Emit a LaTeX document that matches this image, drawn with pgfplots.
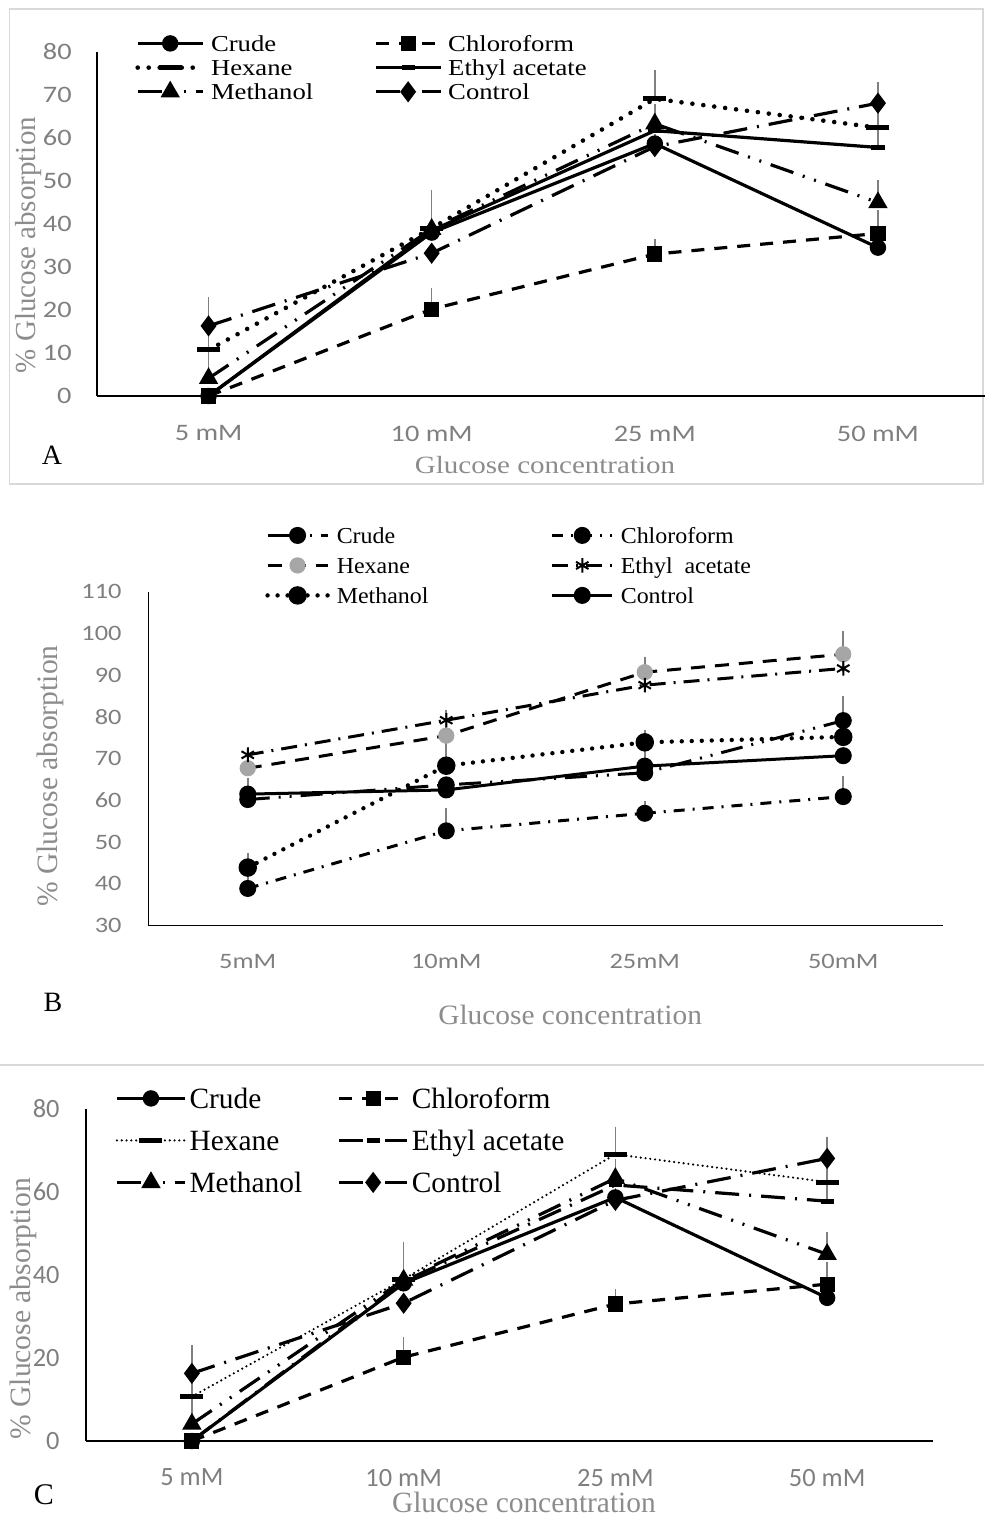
\documentclass[border=0pt]{standalone}
\usepackage{pgfplots}
\pgfplotsset{compat=1.18}
\usepackage{fontspec}
\setmainfont{Liberation Serif}
\newfontfamily\calS[FakeStretch=1.2]{Carlito}
\newfontfamily\calN{Carlito}
\newfontfamily\serA[FakeStretch=1.17]{Liberation Serif}
\newfontfamily\serB[FakeStretch=1.05]{Liberation Serif}

\definecolor{tickgray}{HTML}{7F7F7F}
\definecolor{titlegray}{HTML}{8C8C8C}
\definecolor{errgray}{HTML}{808080}
\definecolor{framegray}{HTML}{D9D9D9}
\definecolor{hexgray}{HTML}{A6A6A6}

\pgfplotsset{
  panel/.style={
    scale only axis, anchor=south west,
    xmin=-0.5, xmax=3.5, xtick={0,1,2,3},
    axis lines=left, axis line style={-, black, line width=0.8pt},
    major tick length=0pt, enlargelimits=false, clip=false,
    /pgf/number format/assume math mode=true,
    yticklabel style={anchor=east, inner sep=0pt, text=tickgray},
    xticklabel style={anchor=north, inner sep=0pt, text=tickgray},
    xlabel style={anchor=center, inner sep=0pt, text=titlegray},
    ylabel style={anchor=center, inner sep=0pt, text=titlegray},
    legend columns=2, legend cell align=left,
    legend style={draw=none, fill=none, inner sep=0pt, row sep=0pt, anchor=north west},
    error bars/y dir=plus, error bars/y explicit,
    error bars/error bar style={errgray, line width=0.8pt, solid},
    error bars/error mark options={errgray, line width=0.8pt, solid, mark size=2.8pt},
  },
}

\begin{document}
\begin{tikzpicture}
\useasboundingbox (0pt,0pt) rectangle (492pt,-759pt);
\draw[framegray, line width=0.7pt] (4.6pt,-4.6pt) rectangle (491.5pt,-242pt);
\draw[framegray, line width=0.7pt] (0pt,-532.5pt) -- (492pt,-532.5pt);

% ---------------- A ----------------
\begin{axis}[panel,
    at={(48.5pt,-198pt)}, width=446.25pt, height=172pt,
    ymin=0, ymax=80, ytick={0,10,...,80},
    xticklabels={5 mM,10 mM,25 mM,50 mM},
    yticklabel style={font=\calS\fontsize{11.8}{13}\selectfont, xshift=-12.5pt},
    xticklabel style={font=\calS\fontsize{11.8}{13}\selectfont, yshift=-14.7pt},
    xlabel={Glucose concentration},
    xlabel style={at={(axis description cs:0.502,-0.2006)}, font=\serA\fontsize{12.4}{14}\selectfont},
    ylabel={\% Glucose absorption},
    ylabel style={at={(axis description cs:-0.0765,0.439)}, font=\fontsize{14.5}{16}\selectfont},
    legend image code/.code={\draw[mark repeat=2,mark phase=2] plot coordinates {(0pt,0pt) (16.25pt,0pt) (32.5pt,0pt)};},
    legend style={at={(axis description cs:0.0426,1.0613)},
      font=\serA\fontsize{11.4}{12}\selectfont,
      nodes={inner sep=0pt, text height=9.85pt, text depth=2.25pt},
      /tikz/every odd column/.append style={column sep=3pt},
      /tikz/column 2/.append style={text width=81.5pt}},
  ]
\addplot[black, line width=1.6pt, mark=*, mark size=3.3pt, mark options={solid}]
  coordinates {(0,0) +- (0,0.5) (1,38.0) +- (0,3.2) (2,58.7) +- (0,1) (3,34.5) +- (0,1)};
\addlegendentry{Crude}
\addplot[black, line width=1.6pt, dash pattern=on 6.5pt off 5pt, mark=square*, mark size=3pt, mark options={solid}]
  coordinates {(0,0) +- (0,0.5) (1,20.2) +- (0,3.5) (2,33.0) +- (0,2.3) (3,37.8) +- (0,4.1)};
\addlegendentry{Chloroform}
\addplot[black, line width=2.3pt, line cap=round, dash pattern=on 0pt off 5.5pt, mark=-, mark size=5.75pt, mark options={solid, line width=2.5pt, line cap=butt}]
  coordinates {(0,10.7) +- (0,2.3) (1,39.0) +- (0,7.7) (2,69.1) +- (0,5.3) (3,62.4) +- (0,3.2)};
\addlegendentry{Hexane}
\addplot[black, line width=1.6pt, mark=-, mark size=3.3pt, mark options={solid, line width=2.5pt}]
  coordinates {(0,0) +- (0,0.5) (1,38.5) +- (0,4.8) (2,61.7) +- (0,1) (3,57.8) +- (0,7.8)};
\addlegendentry{Ethyl acetate}
\addplot[black, line width=1.6pt, dash pattern=on 12pt off 5pt on 1pt off 5pt on 1pt off 5pt, mark=triangle*, mark size=4pt, mark options={solid}]
  coordinates {(0,4.1) +- (0,4.9) (1,38.8) +- (0,0.5) (2,63.3) +- (0,3.2) (3,45.0) +- (0,3.9)};
\addlegendentry{Methanol}
\addplot[black, line width=1.6pt, dash pattern=on 12pt off 5pt on 1pt off 5pt, mark=diamond*, mark size=4pt, mark options={solid}]
  coordinates {(0,16.3) +- (0,5.4) (1,33.2) +- (0,0.5) (2,58.0) +- (0,0.5) (3,68.1) +- (0,3.7)};
\addlegendentry{Control}
\end{axis}
\node[font=\fontsize{14}{16}\selectfont] at (26pt,-227.5pt) {A};

% ---------------- B ----------------
\begin{axis}[panel,
    at={(74.25pt,-462.8pt)}, width=397pt, height=167pt,
    ymin=30, ymax=110, ytick={30,40,...,110},
    xticklabels={5mM,10mM,25mM,50mM},
    yticklabel style={font=\calS\fontsize{11}{13}\selectfont, xshift=-13.25pt},
    xticklabel style={font=\calS\fontsize{11}{13}\selectfont, yshift=-14.2pt},
    xlabel={Glucose concentration},
    xlabel style={at={(axis description cs:0.531,-0.268)}, font=\serB\fontsize{14}{16}\selectfont},
    ylabel={\% Glucose absorption},
    ylabel style={at={(axis description cs:-0.124,0.448)}, font=\fontsize{14.8}{16}\selectfont},
    legend image code/.code={\draw[mark repeat=2,mark phase=2] plot coordinates {(0pt,0pt) (15pt,0pt) (30pt,0pt)};},
    legend style={at={(axis description cs:0.1467,1.2144)},
      font=\serB\fontsize{11.4}{12}\selectfont,
      nodes={inner sep=0pt, text height=11.3pt, text depth=3.7pt},
      /tikz/every odd column/.append style={column sep=3.5pt},
      /tikz/column 2/.append style={text width=107pt}},
  ]
\addplot[black, line width=1.5pt, dash pattern=on 11pt off 4.5pt on 1pt off 4.5pt on 1pt off 4.5pt, mark=*, mark size=3.5pt, mark options={solid}]
  coordinates {(0,60.2) +- (0,3.9) (1,63.7) +- (0,0.5) (2,66.6) +- (0,0.5) (3,79.1) +- (0,4.5)};
\addlegendentry{Crude}
\addplot[black, line width=1.5pt, dash pattern=on 5.5pt off 4pt on 1pt off 4pt, mark=*, mark size=3.5pt, mark options={solid}]
  coordinates {(0,38.9) +- (0,4.0) (1,52.7) +- (0,4.2) (2,56.9) +- (0,1.6) (3,60.9) +- (0,3.7)};
\addlegendentry{Chloroform}
\addplot[black, line width=1.5pt, dash pattern=on 7pt off 5pt, mark=*, mark size=3.3pt, mark options={solid, draw=hexgray, fill=hexgray}]
  coordinates {(0,67.7) +- (0,0.5) (1,75.5) +- (0,4.9) (2,90.7) +- (0,2.4) (3,95.0) +- (0,4.2)};
\addlegendentry{Hexane}
\addplot[black, line width=1.5pt, dash pattern=on 8pt off 4pt on 1pt off 4pt, mark=asterisk, mark size=3.6pt, mark options={solid, line width=1pt}]
  coordinates {(0,70.9) +- (0,0.5) (1,79.2) +- (0,0.5) (2,87.6) +- (0,0.5) (3,91.6) +- (0,0.5)};
\addlegendentry{Ethyl\ \ acetate}
\addplot[black, line width=2.2pt, line cap=round, dash pattern=on 0pt off 5pt, mark=*, mark size=3.5pt, mark options={solid}]
  coordinates {(0,43.9) +- (0,2.2) (1,68.3) +- (0,4.2) (2,73.9) +- (0,1.6) (3,75.2) +- (0,0.5)};
\addlegendentry{Methanol}
\addplot[black, line width=1.5pt, mark=*, mark size=3.5pt, mark options={solid}]
  coordinates {(0,61.5) +- (0,0.5) (1,62.5) +- (0,0.5) (2,68.2) +- (0,4.5) (3,70.7) +- (0,0.5)};
\addlegendentry{Control}
\end{axis}
\node[font=\fontsize{14}{16}\selectfont] at (26.5pt,-501pt) {B};

% ---------------- C ----------------
\begin{axis}[panel,
    at={(43pt,-720.5pt)}, width=423.5pt, height=166pt,
    ymin=0, ymax=80, ytick={0,20,...,80},
    xticklabels={5 mM,10 mM,25 mM,50 mM},
    yticklabel style={font=\calN\fontsize{13.2}{15}\selectfont, xshift=-13pt},
    xticklabel style={font=\calN\fontsize{13.2}{15}\selectfont, yshift=-13.75pt},
    xlabel={Glucose concentration},
    xlabel style={at={(axis description cs:0.517,-0.186)}, font=\fontsize{14.7}{16}\selectfont},
    ylabel={\% Glucose absorption},
    ylabel style={at={(axis description cs:-0.0744,0.398)}, font=\fontsize{14.8}{16}\selectfont},
    legend image code/.code={\draw[mark repeat=2,mark phase=2] plot coordinates {(0pt,0pt) (17pt,0pt) (34pt,0pt)};},
    legend style={at={(axis description cs:0.0342,1.0964)},
      font=\fontsize{14.7}{16}\selectfont,
      nodes={inner sep=0pt, text height=15.35pt, text depth=5.65pt},
      /tikz/every odd column/.append style={column sep=1.5pt},
      /tikz/column 2/.append style={text width=74pt}},
  ]
\addplot[black, line width=1.6pt, mark=*, mark size=3.3pt, mark options={solid}]
  coordinates {(0,0) +- (0,0.5) (1,38.0) +- (0,3.2) (2,58.7) +- (0,1) (3,34.5) +- (0,1)};
\addlegendentry{Crude}
\addplot[black, line width=1.6pt, dash pattern=on 6.5pt off 5pt, mark=square*, mark size=3pt, mark options={solid}]
  coordinates {(0,0) +- (0,0.5) (1,20.2) +- (0,3.5) (2,33.0) +- (0,2.3) (3,37.8) +- (0,4.1)};
\addlegendentry{Chloroform}
\addplot[black, line width=1.2pt, line cap=round, dash pattern=on 0pt off 2.4pt, mark=-, mark size=5.75pt, mark options={solid, line width=2.5pt, line cap=butt}]
  coordinates {(0,10.7) +- (0,2.3) (1,39.0) +- (0,7.7) (2,69.1) +- (0,5.3) (3,62.4) +- (0,3.2)};
\addlegendentry{Hexane}
\addplot[black, line width=1.6pt, dash pattern=on 12pt off 5pt on 1pt off 5pt, mark=-, mark size=3.3pt, mark options={solid, line width=2.5pt}]
  coordinates {(0,0) +- (0,0.5) (1,38.5) +- (0,4.8) (2,61.7) +- (0,1) (3,57.8) +- (0,7.8)};
\addlegendentry{Ethyl acetate}
\addplot[black, line width=1.6pt, dash pattern=on 12pt off 5pt on 1pt off 5pt on 1pt off 5pt, mark=triangle*, mark size=4pt, mark options={solid}]
  coordinates {(0,4.1) +- (0,4.9) (1,38.8) +- (0,0.5) (2,63.3) +- (0,3.2) (3,45.0) +- (0,3.9)};
\addlegendentry{Methanol}
\addplot[black, line width=1.6pt, dash pattern=on 12pt off 5pt on 1pt off 5pt, mark=diamond*, mark size=4pt, mark options={solid}]
  coordinates {(0,16.3) +- (0,5.4) (1,33.2) +- (0,0.5) (2,58.0) +- (0,0.5) (3,68.1) +- (0,3.7)};
\addlegendentry{Control}
\end{axis}
\node[font=\fontsize{15}{17}\selectfont] at (22pt,-747.5pt) {C};
\end{tikzpicture}
\end{document}
